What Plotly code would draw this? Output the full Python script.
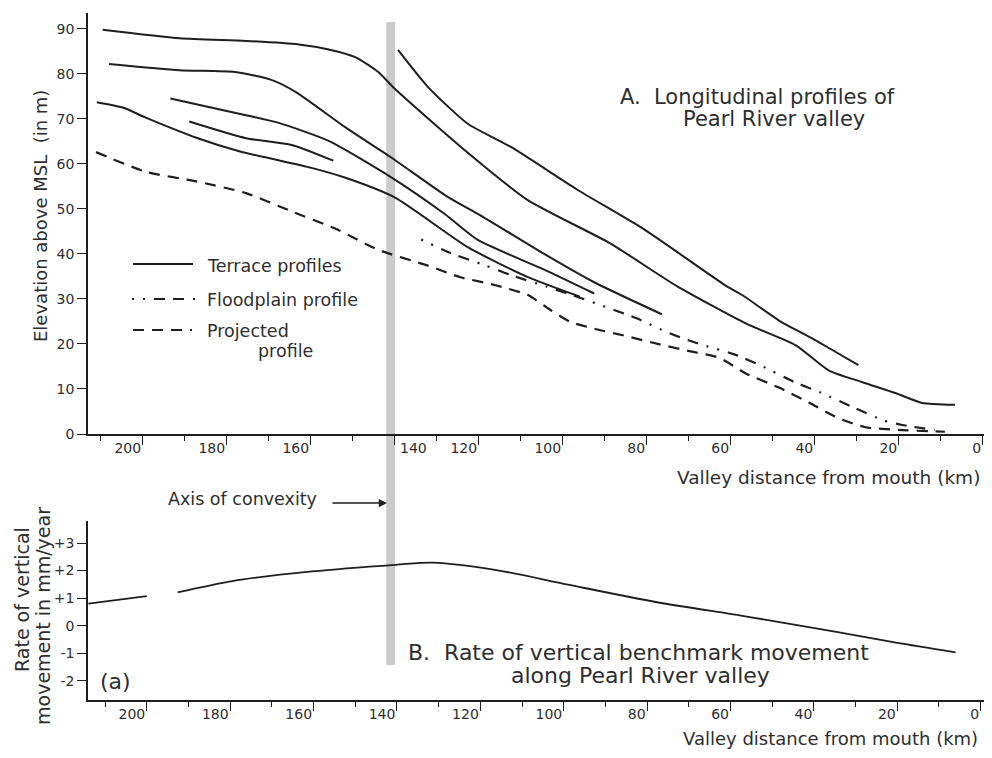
import plotly.graph_objects as go

# ---------------- data ----------------
# A. Longitudinal profiles: valley distance from mouth (km) vs elevation (m)
t1_km = [209.5, 191.2, 175.4, 162.8, 155.7, 149.4, 143.9, 139.9, 124.3, 108.4, 88.8, 72.9, 56.3, 44.5, 36.6, 28.6, 20.8, 14.4, 6.6]
t1_m = [89.8, 87.9, 87.3, 86.5, 85.4, 83.7, 80.4, 76.6, 63.8, 52.0, 42.4, 32.9, 24.5, 19.7, 14.1, 11.5, 9.1, 6.9, 6.5]

ta_km = [139.2, 132.1, 122.6, 112.4, 96.6, 80.7, 61.1, 57.0, 48.5, 40.5, 35.7, 29.6]
ta_m = [85.3, 77.1, 68.9, 63.8, 54.3, 45.5, 32.9, 30.7, 25.2, 21.2, 18.6, 15.3]

t2_km = [208.0, 191.2, 178.0, 169.2, 163.6, 151.7, 140.8, 127.3, 120.2, 104.4, 92.5, 76.4]
t2_m = [82.2, 80.8, 80.4, 78.6, 76.0, 68.1, 61.4, 52.6, 48.9, 40.0, 33.7, 26.6]

t3_km = [210.9, 204.7, 199.1, 187.2, 177.0, 159.8, 151.7, 139.9, 122.6, 108.4, 95.9]
t3_m = [73.7, 72.5, 70.2, 65.8, 62.8, 59.1, 56.9, 52.5, 41.5, 34.9, 30.5]

t4_km = [193.4, 175.4, 167.6, 155.7, 140.8, 128.0, 120.2, 104.4, 92.5]
t4_m = [74.5, 70.8, 69.1, 65.1, 57.0, 48.8, 43.1, 36.5, 31.2]

t5_km = [188.9, 175.4, 164.5, 154.6]
t5_m = [69.4, 65.7, 64.2, 60.7]

fp_km = [133.7, 127.3, 118.6, 112.4, 103.7, 96.6, 88.8, 82.4, 74.6, 67.5, 59.5, 52.8, 45.0, 38.6, 30.3, 23.9, 19.2, 11.4]
fp_m = [43.2, 40.4, 37.5, 35.3, 32.7, 30.5, 27.9, 25.7, 22.4, 20.0, 17.8, 15.2, 11.6, 9.2, 5.7, 3.1, 2.0, 0.9]

pj_km = [211.1, 199.1, 187.2, 175.4, 165.2, 153.4, 143.9, 132.1, 124.3, 116.2, 108.4, 103.0, 98.2, 92.5,
         84.7, 76.9, 69.8, 62.7, 56.3, 48.5, 41.4, 34.3, 27.9, 20.1, 9.0]
pj_m = [62.6, 58.2, 56.1, 53.5, 49.7, 45.3, 40.9, 37.4, 34.8, 33.1, 30.9, 27.6, 24.9, 23.4,
        21.7, 19.9, 18.4, 16.9, 13.4, 10.3, 7.0, 3.5, 1.5, 0.9, 0.5]

# B. Rate of vertical benchmark movement (mm/year); None marks the gap in the curve
rt_km = [214.0, 200.0, None, 192.6, 179.5, 160.4, 140.3, 131.3, 115.8, 99.0, 77.6, 56.1, 34.6, 20.3, 6.0]
rt_v = [0.80, 1.07, None, 1.21, 1.62, 1.97, 2.21, 2.29, 2.01, 1.49, 0.85, 0.33, -0.23, -0.62, -0.97]

convexity_km = [142.0, 139.9]

km_ticks = [0, 20, 40, 60, 80, 100, 120, 140, 160, 180, 200]
km_tick_text_top = ["0", "20", "40", "60", "80", "100", "120", "", "160", "180", "200"]
km_tick_text_bottom = ["0", "20", "40", "60", "80", "100", "120", "140", "160", "180", "200"]
rate_ticks = [-2, -1, 0, 1, 2, 3]
rate_tick_text = ["-2", "-1", "0", "+1", "+2", "+3"]

# ---------------- styling ----------------
INK = "#1e1e1e"
TXT = "#2e2e2e"
FONT = "DejaVu Sans, sans-serif"

# the page body adds an 8px offset, so the figure is 16px smaller than the window
OFF = 8
W, H = 992 - 2 * OFF, 758 - 2 * OFF
# plot area in window pixels
X0, X1, Y0, Y1 = 88, 984, 13, 700
ML, MT = X0 - OFF, Y0 - OFF
MR = W - (X1 - OFF)
MB = H - (Y1 - OFF)


def px(x):
    return (x - X0) / (X1 - X0)


def py(y):
    return (Y1 - y) / (Y1 - Y0)


fig = go.Figure()

terr = dict(color=INK, width=2, shape="spline", smoothing=0.6)
for xs, ys in [(t1_km, t1_m), (ta_km, ta_m), (t2_km, t2_m), (t3_km, t3_m), (t4_km, t4_m), (t5_km, t5_m)]:
    fig.add_trace(go.Scatter(x=xs, y=ys, mode="lines", line=terr, xaxis="x", yaxis="y", hoverinfo="skip"))

FP_DASH = "2px,9px,2px,9px,11px,8px,11px,9px"
PJ_DASH = "11px,8px"
fig.add_trace(go.Scatter(x=fp_km, y=fp_m, mode="lines",
                         line=dict(color=INK, width=2.2, dash=FP_DASH, shape="spline", smoothing=0.6),
                         xaxis="x", yaxis="y", hoverinfo="skip"))
fig.add_trace(go.Scatter(x=pj_km, y=pj_m, mode="lines",
                         line=dict(color=INK, width=2.2, dash=PJ_DASH, shape="spline", smoothing=0.6),
                         xaxis="x", yaxis="y", hoverinfo="skip"))

fig.add_trace(go.Scatter(x=rt_km, y=rt_v, mode="lines",
                         line=dict(color=INK, width=1.8, shape="spline", smoothing=0.8),
                         connectgaps=False, xaxis="x2", yaxis="y2", hoverinfo="skip"))

top_y0 = py(434)
bot_y1 = py(521)

axis_common = dict(showgrid=False, zeroline=False, showline=True, linecolor=INK, linewidth=1.6,
                   ticks="outside", tickcolor=INK, tickwidth=1.4, automargin=False,
                   tickfont=dict(family=FONT, size=14, color=TXT))
minor_x = dict(dtick=10, ticklen=5, ticks="outside", tickcolor=INK, tickwidth=1.2)

fig.update_layout(
    width=W, height=H, margin=dict(l=ML, r=MR, t=MT, b=MB, autoexpand=False),
    paper_bgcolor="white", plot_bgcolor="white", showlegend=False,
    xaxis=dict(domain=[0, 1], range=[213, -0.3], anchor="y", tickmode="array", tickvals=km_ticks,
               ticktext=km_tick_text_top, ticklen=9,
               ticklabelposition="outside left", ticklabeloverflow="allow", minor=minor_x,
               **axis_common),
    yaxis=dict(domain=[top_y0, 1], range=[0, 93.5], anchor="x", tick0=0, dtick=10, ticklen=9,
               **axis_common),
    xaxis2=dict(domain=[0, 1], range=[214.1, -0.8], anchor="y2", tickmode="array", tickvals=km_ticks,
                ticktext=km_tick_text_bottom, ticklen=9,
                ticklabelposition="outside left", ticklabeloverflow="allow", minor=minor_x,
                **axis_common),
    yaxis2=dict(domain=[0, bot_y1], range=[-2.7, 3.8], anchor="x2", tickmode="array",
                tickvals=rate_ticks, ticktext=rate_tick_text, ticklen=9, **axis_common),
)

# axis of convexity band
fig.add_shape(type="rect", xref="x", yref="paper", x0=convexity_km[0], x1=convexity_km[1],
              y0=py(665), y1=py(22), fillcolor="#cbcbcb", line=dict(width=0), layer="below")

# legend samples
fig.add_shape(type="line", xref="paper", yref="paper", x0=px(133), x1=px(193), y0=py(264), y1=py(264),
              line=dict(color=INK, width=2))
fig.add_shape(type="line", xref="paper", yref="paper", x0=px(132), x1=px(198), y0=py(299), y1=py(299),
              line=dict(color=INK, width=2.2, dash=FP_DASH))
fig.add_shape(type="line", xref="paper", yref="paper", x0=px(133), x1=px(192), y0=py(330), y1=py(330),
              line=dict(color=INK, width=2.2, dash=PJ_DASH))


def note(text, x, y, size, xanchor="left", angle=0):
    fig.add_annotation(text=text, xref="paper", yref="paper", x=px(x), y=py(y), xanchor=xanchor,
                       yanchor="middle", showarrow=False, textangle=angle, borderpad=0, borderwidth=0,
                       font=dict(family=FONT, size=size, color=TXT))


note("Terrace profiles", 207, 266, 17.5)
note("Floodplain profile", 207, 300, 17.5)
note("Projected", 207, 331, 17.5)
note("profile", 258, 351, 17.5)

note("A.  Longitudinal profiles of", 620, 97, 21)
note("Pearl River valley", 683, 119, 21)
note("B.  Rate of vertical benchmark movement", 408, 652, 22)
note("along Pearl River valley", 511, 675, 22)

note("Valley distance from mouth (km)", 980, 477, 18.5, xanchor="right")
note("Valley distance from mouth (km)", 978, 738, 18, xanchor="right")
note("(a)", 100, 681, 22)
note("Axis of convexity", 168, 499, 17.5)
# the 140 label of the upper axis sits to the right of its tick
fig.add_annotation(text="140", xref="x", yref="paper", x=140, y=py(448), xanchor="left",
                   yanchor="middle", xshift=5, showarrow=False, borderpad=0, borderwidth=0,
                   font=dict(family=FONT, size=14, color=TXT))

note("Elevation above MSL  (in m)", 40, 216, 18, xanchor="center", angle=-90)
note("Rate of vertical", 22, 600, 19, xanchor="center", angle=-90)
note("movement in mm/year", 43, 616, 19, xanchor="center", angle=-90)

fig.add_annotation(xref="paper", yref="paper", x=px(387), y=py(503), ax=-56, ay=0,
                   axref="pixel", ayref="pixel", text="", showarrow=True,
                   arrowhead=2, arrowsize=1.1, arrowwidth=1.5, arrowcolor=INK)

fig.write_html("out.html")
